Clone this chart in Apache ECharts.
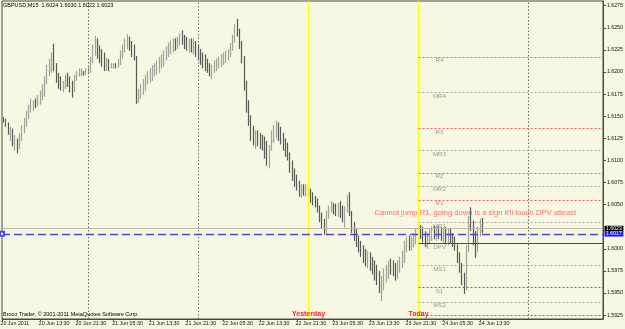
<!DOCTYPE html>
<html><head><meta charset="utf-8">
<script src="https://cdn.jsdelivr.net/npm/echarts@6/dist/echarts.min.js"></script>
<style>html,body{margin:0;padding:0;background:#f6f8e3;}#c{width:625px;height:329px;}</style>
</head><body><div id="c"></div>
<script>
const chartTitle = 'GBPUSD,M15  1.6024 1.6030 1.6022 1.6023';
const copyright = 'Broco Trader, \u00a9 2001-2011 MetaQuotes Software Corp.';
// time in hours since 20 Jun 2011 00:00; 30-minute bars, placed at their open time
const firstBarHour = 5.5;
const barHours = 0.5;
const firstOpen = 1.6147;
const highs = [
1.6149,1.6147,1.6143,1.6138,1.6136,1.6129,1.6125,1.6131,1.6140,1.6148,
1.6156,1.6163,1.6170,1.6168,1.6170,1.6174,1.6179,1.6186,1.6195,1.6208,
1.6215,1.6222,1.6232,1.6210,1.6199,1.6195,1.6190,1.6197,1.6199,1.6195,
1.6190,1.6197,1.6201,1.6204,1.6204,1.6201,1.6204,1.6206,1.6217,1.6231,
1.6241,1.6238,1.6230,1.6226,1.6222,1.6216,1.6215,1.6210,1.6210,1.6210,
1.6215,1.6224,1.6231,1.6238,1.6243,1.6240,1.6235,1.6231,1.6218,1.6181,
1.6186,1.6192,1.6197,1.6201,1.6204,1.6208,1.6210,1.6213,1.6217,1.6220,
1.6224,1.6229,1.6233,1.6235,1.6238,1.6238,1.6240,1.6244,1.6247,1.6242,
1.6240,1.6238,1.6238,1.6238,1.6235,1.6231,1.6226,1.6222,1.6220,1.6215,
1.6210,1.6208,1.6213,1.6215,1.6217,1.6220,1.6222,1.6224,1.6226,1.6233,
1.6242,1.6254,1.6260,1.6249,1.6235,1.6218,1.6190,1.6168,1.6151,1.6139,
1.6134,1.6134,1.6131,1.6129,1.6127,1.6122,1.6117,1.6134,1.6140,1.6145,
1.6143,1.6138,1.6131,1.6125,1.6120,1.6109,1.6100,1.6091,1.6084,1.6077,
1.6073,1.6073,1.6073,1.6073,1.6068,1.6064,1.6060,1.6057,1.6049,1.6041,
1.6034,1.6043,1.6049,1.6054,1.6052,1.6051,1.6052,1.6054,1.6049,1.6048,
1.6061,1.6064,1.6043,1.6030,1.6023,1.6015,1.6009,1.6004,1.6000,1.5998,
1.5996,1.5991,1.5987,1.5982,1.5975,1.5969,1.5978,1.5982,1.5987,1.5989,
1.5987,1.5984,1.5987,1.5991,1.5998,1.6009,1.6014,1.6015,1.6014,1.6018,
1.6023,1.6030,1.6027,1.6025,1.6020,1.6018,1.6023,1.6025,1.6026,1.6025,
1.6026,1.6025,1.6023,1.6025,1.6023,1.6023,1.6018,1.6014,1.6005,1.5996,
1.5984,1.5973,1.6004,1.6037,1.6047,1.6032,1.6020,1.6025,1.6034,1.6035];
const lows = [
1.6143,1.6138,1.6129,1.6122,1.6116,1.6111,1.6108,1.6113,1.6122,1.6131,
1.6138,1.6147,1.6154,1.6156,1.6159,1.6161,1.6163,1.6168,1.6172,1.6186,
1.6195,1.6199,1.6201,1.6188,1.6181,1.6179,1.6177,1.6181,1.6183,1.6177,
1.6171,1.6177,1.6190,1.6195,1.6195,1.6196,1.6196,1.6197,1.6199,1.6210,
1.6218,1.6215,1.6210,1.6206,1.6201,1.6201,1.6201,1.6204,1.6204,1.6204,
1.6205,1.6208,1.6215,1.6222,1.6226,1.6224,1.6217,1.6213,1.6164,1.6165,
1.6170,1.6174,1.6179,1.6186,1.6188,1.6190,1.6195,1.6197,1.6199,1.6204,
1.6206,1.6213,1.6217,1.6220,1.6222,1.6224,1.6226,1.6230,1.6231,1.6226,
1.6224,1.6222,1.6222,1.6220,1.6217,1.6213,1.6208,1.6204,1.6201,1.6199,
1.6195,1.6192,1.6199,1.6201,1.6204,1.6206,1.6208,1.6210,1.6213,1.6217,
1.6224,1.6233,1.6240,1.6226,1.6210,1.6179,1.6154,1.6139,1.6122,1.6117,
1.6113,1.6116,1.6113,1.6111,1.6102,1.6094,1.6091,1.6111,1.6120,1.6125,
1.6122,1.6118,1.6111,1.6104,1.6100,1.6086,1.6077,1.6070,1.6066,1.6059,
1.6058,1.6060,1.6059,1.6058,1.6052,1.6049,1.6047,1.6041,1.6030,1.6023,
1.6016,1.6015,1.6034,1.6041,1.6039,1.6037,1.6036,1.6035,1.6030,1.6024,
1.6041,1.6037,1.6018,1.6009,1.6002,1.5996,1.5991,1.5984,1.5980,1.5978,
1.5975,1.5971,1.5964,1.5959,1.5950,1.5941,1.5953,1.5962,1.5966,1.5971,
1.5969,1.5964,1.5966,1.5973,1.5978,1.5984,1.5996,1.5998,1.5998,1.6002,
1.6005,1.6014,1.6011,1.6007,1.6002,1.6000,1.6005,1.6009,1.6011,1.6009,
1.6011,1.6009,1.6007,1.6005,1.6004,1.6006,1.6002,1.5998,1.5984,1.5973,
1.5959,1.5949,1.5953,1.5996,1.6020,1.6004,1.5990,1.5996,1.6014,1.6018];
const closes = [
1.6145,1.6140,1.6131,1.6134,1.6120,1.6125,1.6116,1.6127,1.6136,1.6143,
1.6152,1.6159,1.6163,1.6165,1.6163,1.6170,1.6174,1.6181,1.6190,1.6201,
1.6210,1.6215,1.6206,1.6192,1.6186,1.6183,1.6186,1.6192,1.6190,1.6181,
1.6177,1.6195,1.6199,1.6199,1.6201,1.6199,1.6201,1.6204,1.6215,1.6226,
1.6235,1.6224,1.6217,1.6213,1.6208,1.6210,1.6206,1.6207,1.6208,1.6206,
1.6210,1.6220,1.6226,1.6233,1.6238,1.6231,1.6224,1.6217,1.6172,1.6177,
1.6181,1.6188,1.6192,1.6197,1.6199,1.6201,1.6206,1.6208,1.6213,1.6215,
1.6220,1.6224,1.6229,1.6231,1.6233,1.6229,1.6235,1.6240,1.6238,1.6235,
1.6231,1.6233,1.6229,1.6231,1.6224,1.6220,1.6215,1.6210,1.6206,1.6204,
1.6199,1.6204,1.6208,1.6210,1.6213,1.6215,1.6217,1.6220,1.6222,1.6229,
1.6238,1.6249,1.6247,1.6231,1.6215,1.6186,1.6161,1.6147,1.6129,1.6125,
1.6127,1.6122,1.6118,1.6116,1.6109,1.6100,1.6111,1.6129,1.6136,1.6138,
1.6131,1.6125,1.6116,1.6109,1.6102,1.6091,1.6082,1.6075,1.6070,1.6066,
1.6068,1.6066,1.6068,1.6064,1.6057,1.6054,1.6050,1.6043,1.6034,1.6027,
1.6020,1.6039,1.6045,1.6048,1.6045,1.6043,1.6048,1.6041,1.6034,1.6041,
1.6057,1.6041,1.6023,1.6014,1.6007,1.6000,1.5996,1.5989,1.5984,1.5984,
1.5980,1.5975,1.5969,1.5964,1.5955,1.5959,1.5971,1.5975,1.5980,1.5978,
1.5975,1.5971,1.5980,1.5987,1.5993,1.6005,1.6009,1.6005,1.6009,1.6014,
1.6018,1.6025,1.6018,1.6011,1.6009,1.6014,1.6018,1.6020,1.6016,1.6020,
1.6018,1.6014,1.6016,1.6011,1.6018,1.6011,1.6007,1.6002,1.5989,1.5978,
1.5964,1.5957,1.5998,1.6030,1.6025,1.6009,1.5998,1.6020,1.6027,1.6023];

const xMin = 5.1273, xMax = 136.255;
const yMin = 1.592066, yMax = 1.628027;
const xTickHours = [5.1273,13.5,21.5,29.5,37.5,45.5,53.5,61.5,69.5,77.5,85.5,93.5,101.5,109.5];
const xTickLabels = ['20 Jun 2011','20 Jun 13:30','20 Jun 21:30','21 Jun 05:30','21 Jun 13:30','21 Jun 21:30','22 Jun 05:30','22 Jun 13:30','22 Jun 21:30','23 Jun 05:30','23 Jun 13:30','23 Jun 21:30','24 Jun 05:30','24 Jun 13:30'];
const yTicks = [1.5925,1.5950,1.5975,1.6000,1.6050,1.6075,1.6100,1.6125,1.6150,1.6175,1.6200,1.6225,1.6250,1.6275];
const daySeparators = [24, 48, 120];
const yesterdayHour = 72, todayHour = 96;
const pivotNames  = ['R4','MR4','R3','MR3','R2','MR2','R1','MR1','DPV','MS1','S1','MS2','S2'];
const pivotValues = [1.6217,1.6177,1.6136,1.6111,1.6086,1.6071,1.6055,1.6030,1.6006,1.5981,1.5956,1.5940,1.5925];
const bidPrice = 1.6023;
const linePrice = 1.6017;
const note = "Cannot jump R1, going down is a sign it'll touch DPV atleast";
const notePos = [86.4, 1.6041];

const FF = '"Liberation Sans", Arial, sans-serif';
const candles = closes.map((c, i) => {
  const o = i === 0 ? firstOpen : closes[i - 1];
  return [firstBarHour + i * barHours, o, c, lows[i], highs[i]];
});

function pivotStyle(name) {
  if (name === 'DPV') return {color: '#3c3cc8', type: 'solid', width: 1};
  if (name[0] === 'R') return {color: '#f25858', type: [2, 2], width: 1};
  if (name[0] === 'S') return {color: '#3f9a3f', type: [2, 2], width: 1};
  return {color: '#a8a89c', type: [2, 2], width: 1};
}

const markData = [];
daySeparators.forEach(h => markData.push({xAxis: h, lineStyle: {color: '#6a6a6a', type: [1.5, 2], width: 1}, label: {show: false}}));
[[yesterdayHour, 'Yesterday'], [todayHour, 'Today']].forEach(([h, t]) => markData.push({
  xAxis: h, lineStyle: {color: '#ffff00', type: 'solid', width: 1},
  label: {show: true, formatter: t, position: 'start', distance: -8.5, color: '#ff2020', fontWeight: 'bold', fontSize: 7, fontFamily: FF}
}));
pivotNames.forEach((n, i) => markData.push([
  {coord: [todayHour, pivotValues[i]], lineStyle: pivotStyle(n),
   label: {show: n !== 'S2', formatter: n, position: 'insideStartBottom', distance: [21, 0.5], align: 'center', color: '#9a9a9a', fontSize: 6.2, fontFamily: FF}},
  {coord: [xMax, pivotValues[i]]}
]));
markData.push([
  {coord: [xMin, bidPrice], symbol: 'none', lineStyle: {color: '#bdb6a0', type: 'solid', width: 1},
   label: {show: true, formatter: bidPrice.toFixed(4), position: 'end', distance: 1.5, color: '#fff', backgroundColor: '#000', padding: [0.5, 1.5, 0, 1.5], fontSize: 5.2, fontFamily: FF}},
  {coord: [xMax, bidPrice], symbol: 'none'}
]);
markData.push([
  {coord: [xMin, linePrice], symbol: 'emptyRect', symbolSize: 4, lineStyle: {color: '#4646ff', type: [8, 4], width: 1.3},
   label: {show: true, formatter: linePrice.toFixed(4), position: 'end', distance: 1.5, color: '#fff', backgroundColor: '#1818ff', padding: [0.5, 1.5, 0, 1.5], fontSize: 5.2, fontFamily: FF}},
  {coord: [xMax, linePrice], symbol: 'none'}
]);

const chart = echarts.init(document.getElementById('c'), null, {renderer: 'canvas'});
chart.setOption({
  animation: false,
  backgroundColor: '#f6f8e3',
  title: [
    {text: chartTitle, left: 3, top: 2.5, padding: 0, textStyle: {fontSize: 5.5, color: '#000', fontWeight: 'normal', fontFamily: FF}},
    {text: copyright, left: 3, top: 311.3, padding: 0, textStyle: {fontSize: 5.5, color: '#000', fontWeight: 'normal', fontFamily: FF}}
  ],
  grid: {left: 2, top: 1, right: 22, bottom: 10, show: true, borderColor: '#4a4a42', borderWidth: 1, outerBoundsMode: 'none', containLabel: false},
  xAxis: {
    type: 'value', min: xMin, max: xMax, splitLine: {show: false},
    axisLine: {show: true, onZero: false, lineStyle: {color: '#4a4a42'}},
    axisTick: {show: true, customValues: xTickHours, length: 2, lineStyle: {color: '#4a4a42'}},
    axisLabel: {show: true, customValues: xTickHours, align: 'left', margin: 2.5, padding: [0, 0, 0, -1.5], fontSize: 5.3, color: '#111', fontFamily: FF,
      formatter: v => { const k = xTickHours.findIndex(h => Math.abs(h - v) < 0.01); return k < 0 ? '' : xTickLabels[k]; }}
  },
  yAxis: {
    type: 'value', position: 'right', min: yMin, max: yMax, splitLine: {show: false},
    axisLine: {show: true, onZero: false, lineStyle: {color: '#4a4a42'}},
    axisTick: {show: true, customValues: yTicks, length: 3, lineStyle: {color: '#4a4a42'}},
    axisLabel: {show: true, customValues: yTicks, margin: 4, fontSize: 5.2, color: '#111', fontFamily: FF,
      formatter: v => v.toFixed(4)}
  },
  series: [
    {
      type: 'candlestick', data: candles, barWidth: 1.2, silent: true,
      itemStyle: {color: '#9ca49c', color0: '#565b55', borderColor: '#9ca49c', borderColor0: '#565b55', borderWidth: 1.2},
      markLine: {silent: true, symbol: ['none', 'none'], animation: false, data: markData}
    },
    {
      type: 'scatter', data: [notePos], symbolSize: 0, silent: true,
      label: {show: true, formatter: note, position: 'right', distance: 0, color: '#ff4a4a', fontSize: 7.6, fontFamily: FF}
    }
  ]
});
</script></body></html>
